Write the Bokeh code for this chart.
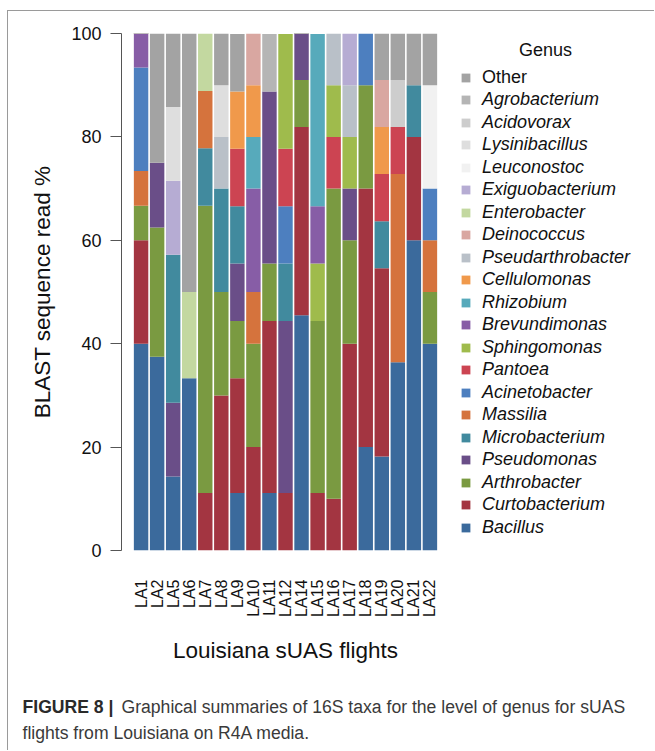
import math
from bokeh.plotting import figure
from bokeh.layouts import column, row
from bokeh.models import (ColumnDataSource, FactorRange, Range1d, FixedTicker,
                          Legend, LegendItem, Label)
from bokeh.core.properties import value
from bokeh.embed import file_html
from bokeh.resources import INLINE

FONT = "Liberation Sans"

flights = ["LA1", "LA2", "LA5", "LA6", "LA7", "LA8", "LA9", "LA10", "LA11", "LA12",
           "LA14", "LA15", "LA16", "LA17", "LA18", "LA19", "LA20", "LA21", "LA22"]

# stack order, bottom to top
genera = ["Bacillus", "Curtobacterium", "Arthrobacter", "Pseudomonas", "Microbacterium",
          "Massilia", "Acinetobacter", "Pantoea", "Sphingomonas", "Brevundimonas",
          "Rhizobium", "Cellulomonas", "Pseudarthrobacter", "Deinococcus", "Enterobacter",
          "Exiguobacterium", "Leuconostoc", "Lysinibacillus", "Acidovorax",
          "Agrobacterium", "Other"]

colors = ["#3b6a9c", "#a33541", "#7a9a41", "#6a4e88", "#418a9e",
          "#d5733d", "#4d7fbf", "#cc4452", "#9fbb4c", "#875da6",
          "#57aabb", "#f0994b", "#b9c0c8", "#d9a7a1", "#c3d8a0",
          "#b6acd3", "#f1f1f1", "#dedede", "#cdcdcd",
          "#b5b5b5", "#a3a3a3"]

Bacillus          = [40, 37.5, 14.3, 33.3, 0, 0, 11.1, 0, 11.1, 0, 45.5, 0, 0, 0, 20, 18.2, 36.4, 60, 40]
Curtobacterium    = [20, 0, 0, 0, 11.1, 30, 22.2, 20, 33.3, 11.1, 36.4, 11.1, 10, 40, 50, 36.4, 0, 20, 0]
Arthrobacter      = [6.7, 25, 0, 0, 55.6, 20, 11.1, 20, 11.1, 0, 9.1, 33.3, 60, 20, 20, 0, 0, 0, 10]
Pseudomonas       = [0, 12.5, 14.3, 0, 0, 0, 11.1, 0, 33.3, 33.3, 9.1, 0, 0, 10, 0, 0, 0, 0, 0]
Microbacterium    = [0, 0, 28.6, 0, 11.1, 20, 11.1, 0, 0, 11.1, 0, 0, 0, 0, 0, 9.1, 0, 10, 0]
Massilia          = [6.7, 0, 0, 0, 11.1, 0, 0, 10, 0, 0, 0, 0, 0, 0, 0, 0, 36.4, 0, 10]
Acinetobacter     = [20, 0, 0, 0, 0, 0, 0, 0, 0, 11.1, 0, 0, 0, 0, 10, 0, 0, 0, 10]
Pantoea           = [0, 0, 0, 0, 0, 0, 11.1, 0, 0, 11.1, 0, 0, 10, 0, 0, 9.1, 9.1, 0, 0]
Sphingomonas      = [0, 0, 0, 0, 0, 0, 0, 0, 0, 22.2, 0, 11.1, 10, 10, 0, 0, 0, 0, 0]
Brevundimonas     = [6.7, 0, 0, 0, 0, 0, 0, 20, 0, 0, 0, 11.1, 0, 0, 0, 0, 0, 0, 0]
Rhizobium         = [0, 0, 0, 0, 0, 0, 0, 10, 0, 0, 0, 33.3, 0, 0, 0, 0, 0, 0, 0]
Cellulomonas      = [0, 0, 0, 0, 0, 0, 11.1, 10, 0, 0, 0, 0, 0, 0, 0, 9.1, 0, 0, 0]
Pseudarthrobacter = [0, 0, 0, 0, 0, 10, 0, 0, 0, 0, 0, 0, 10, 10, 0, 0, 0, 0, 0]
Deinococcus       = [0, 0, 0, 0, 0, 0, 0, 10, 0, 0, 0, 0, 0, 0, 0, 9.1, 0, 0, 0]
Enterobacter      = [0, 0, 0, 16.7, 11.1, 0, 0, 0, 0, 0, 0, 0, 0, 0, 0, 0, 0, 0, 0]
Exiguobacterium   = [0, 0, 14.3, 0, 0, 0, 0, 0, 0, 0, 0, 0, 0, 10, 0, 0, 0, 0, 0]
Leuconostoc       = [0, 0, 0, 0, 0, 0, 0, 0, 0, 0, 0, 0, 0, 0, 0, 0, 0, 0, 20]
Lysinibacillus    = [0, 0, 14.3, 0, 0, 10, 0, 0, 0, 0, 0, 0, 0, 0, 0, 0, 0, 0, 0]
Acidovorax        = [0, 0, 0, 0, 0, 0, 0, 0, 0, 0, 0, 0, 0, 0, 0, 0, 9.1, 0, 0]
Agrobacterium     = [0, 0, 0, 0, 0, 0, 0, 0, 11.1, 0, 0, 0, 0, 0, 0, 0, 0, 0, 0]
Other             = [0, 25, 14.3, 50, 0, 10, 11.1, 0, 0, 0, 0, 0, 0, 0, 0, 9.1, 9.1, 10, 10]

series = [Bacillus, Curtobacterium, Arthrobacter, Pseudomonas, Microbacterium, Massilia,
          Acinetobacter, Pantoea, Sphingomonas, Brevundimonas, Rhizobium, Cellulomonas,
          Pseudarthrobacter, Deinococcus, Enterobacter, Exiguobacterium, Leuconostoc,
          Lysinibacillus, Acidovorax, Agrobacterium, Other]

y_ticks = [0, 20, 40, 60, 80, 100]

data = {"flight": flights}
for g, s in zip(genera, series):
    data[g] = s
source = ColumnDataSource(data=data)

TOTAL_W, TOTAL_H = 646, 739
MAIN_W, MAIN_H = 446, 665
LEG_W = TOTAL_W - MAIN_W
CAP_H = TOTAL_H - MAIN_H
TXT = "#111111"

# ---------------- main chart ----------------
p = figure(
    x_range=FactorRange(factors=flights, range_padding=0.72, range_padding_units="absolute"),
    y_range=Range1d(0, 100),
    width=MAIN_W, height=MAIN_H,
    output_backend="svg", toolbar_location=None,
    min_border_left=113, min_border_right=5, min_border_top=22,
    min_border_bottom=MAIN_H - 539,
    background_fill_color="white", border_fill_color="white",
)
p.outline_line_color = None
p.grid.visible = False

renderers = p.vbar_stack(genera, x="flight", width=0.9, color=colors, source=source,
                         line_color=None)

yax = p.yaxis[0]
yax.ticker = FixedTicker(ticks=y_ticks)
yax.axis_line_color = "#555555"
yax.major_tick_line_color = "#555555"
yax.minor_tick_line_color = None
yax.major_tick_out = 11
yax.major_tick_in = 0
yax.major_label_standoff = 9
yax.major_label_text_font = FONT
yax.major_label_text_font_size = "18px"
yax.major_label_text_color = TXT
yax.axis_label = "BLAST sequence read %"
yax.axis_label_text_font = FONT
yax.axis_label_text_font_size = "22.5px"
yax.axis_label_text_font_style = "normal"
yax.axis_label_text_color = TXT
yax.axis_label_standoff = 13

xax = p.xaxis[0]
xax.axis_line_color = None
xax.major_tick_line_color = None
xax.minor_tick_line_color = None
xax.major_label_orientation = math.pi / 2
xax.major_label_standoff = 23
xax.major_label_text_font = FONT
xax.major_label_text_font_size = "16px"
xax.major_label_text_color = TXT
xax.axis_label = "Louisiana sUAS flights"
xax.axis_label_text_font = FONT
xax.axis_label_text_font_size = "22.5px"
xax.axis_label_text_font_style = "normal"
xax.axis_label_text_color = TXT
xax.axis_label_standoff = 18

# ---------------- legend panel ----------------
pl = figure(width=LEG_W, height=MAIN_H, x_range=Range1d(0, 1), y_range=Range1d(0, 1),
            x_axis_location=None, y_axis_location=None,
            output_backend="svg", toolbar_location=None, min_border=0,
            background_fill_color="white", border_fill_color="white")
pl.outline_line_color = None
pl.grid.visible = False

# legend keys (placed outside the visible range, only their swatches are shown)
key_renderers = [pl.vbar(x=[5], top=[5], bottom=[4], width=0.1, color=c, line_color=None)
                 for c in colors]

legend_order = list(reversed(range(len(genera))))
for k, gi in enumerate(legend_order):
    yc = 76.5 + 22.5 * k           # item centre, page pixels
    leg = Legend(
        items=[LegendItem(label=value(genera[gi]), renderers=[key_renderers[gi]])],
        location=(6, 539 - yc),
        padding=0, margin=0, spacing=0,
        border_line_color=None, background_fill_alpha=0,
        glyph_width=11, glyph_height=11, label_height=20, label_standoff=11,
        label_text_font=FONT, label_text_font_size="18px",
        label_text_font_style="normal" if genera[gi] == "Other" else "italic",
        label_text_color=TXT,
    )
    pl.add_layout(leg)

pl.add_layout(Label(x=91, y=501, x_units="screen", y_units="screen", text="Genus",
                    text_align="center", text_baseline="middle", text_font=FONT,
                    text_font_size="18px", text_color=TXT))

# ---------------- caption ----------------
pc = figure(width=TOTAL_W, height=CAP_H, x_range=Range1d(0, 1), y_range=Range1d(0, 1),
            x_axis_location=None, y_axis_location=None,
            output_backend="svg", toolbar_location=None, min_border=0,
            background_fill_color="white", border_fill_color="white")
pc.outline_line_color = None
pc.grid.visible = False

cap_color = "#3a3a3a"
CAP_FS = "17.6px"
pc.add_layout(Label(x=14, y=44, x_units="screen", y_units="screen", text="FIGURE 8 |",
                    text_baseline="middle", text_font=FONT, text_font_size=CAP_FS,
                    text_font_style="bold", text_color="#2a2a2a"))
pc.add_layout(Label(x=113, y=44, x_units="screen", y_units="screen",
                    text="Graphical summaries of 16S taxa for the level of genus for sUAS",
                    text_baseline="middle", text_font=FONT, text_font_size=CAP_FS,
                    text_color=cap_color))
pc.add_layout(Label(x=14, y=18, x_units="screen", y_units="screen",
                    text="flights from Louisiana on R4A media.",
                    text_baseline="middle", text_font=FONT, text_font_size=CAP_FS,
                    text_color=cap_color))

layout = column(row(p, pl, spacing=0), pc, spacing=0)
layout.styles = {"border-left": "1px solid #9a9a9a", "border-top": "1px solid #9a9a9a",
                 "margin-left": "7px", "margin-top": "10px"}

open("out.html", "w").write(file_html(layout, INLINE))
